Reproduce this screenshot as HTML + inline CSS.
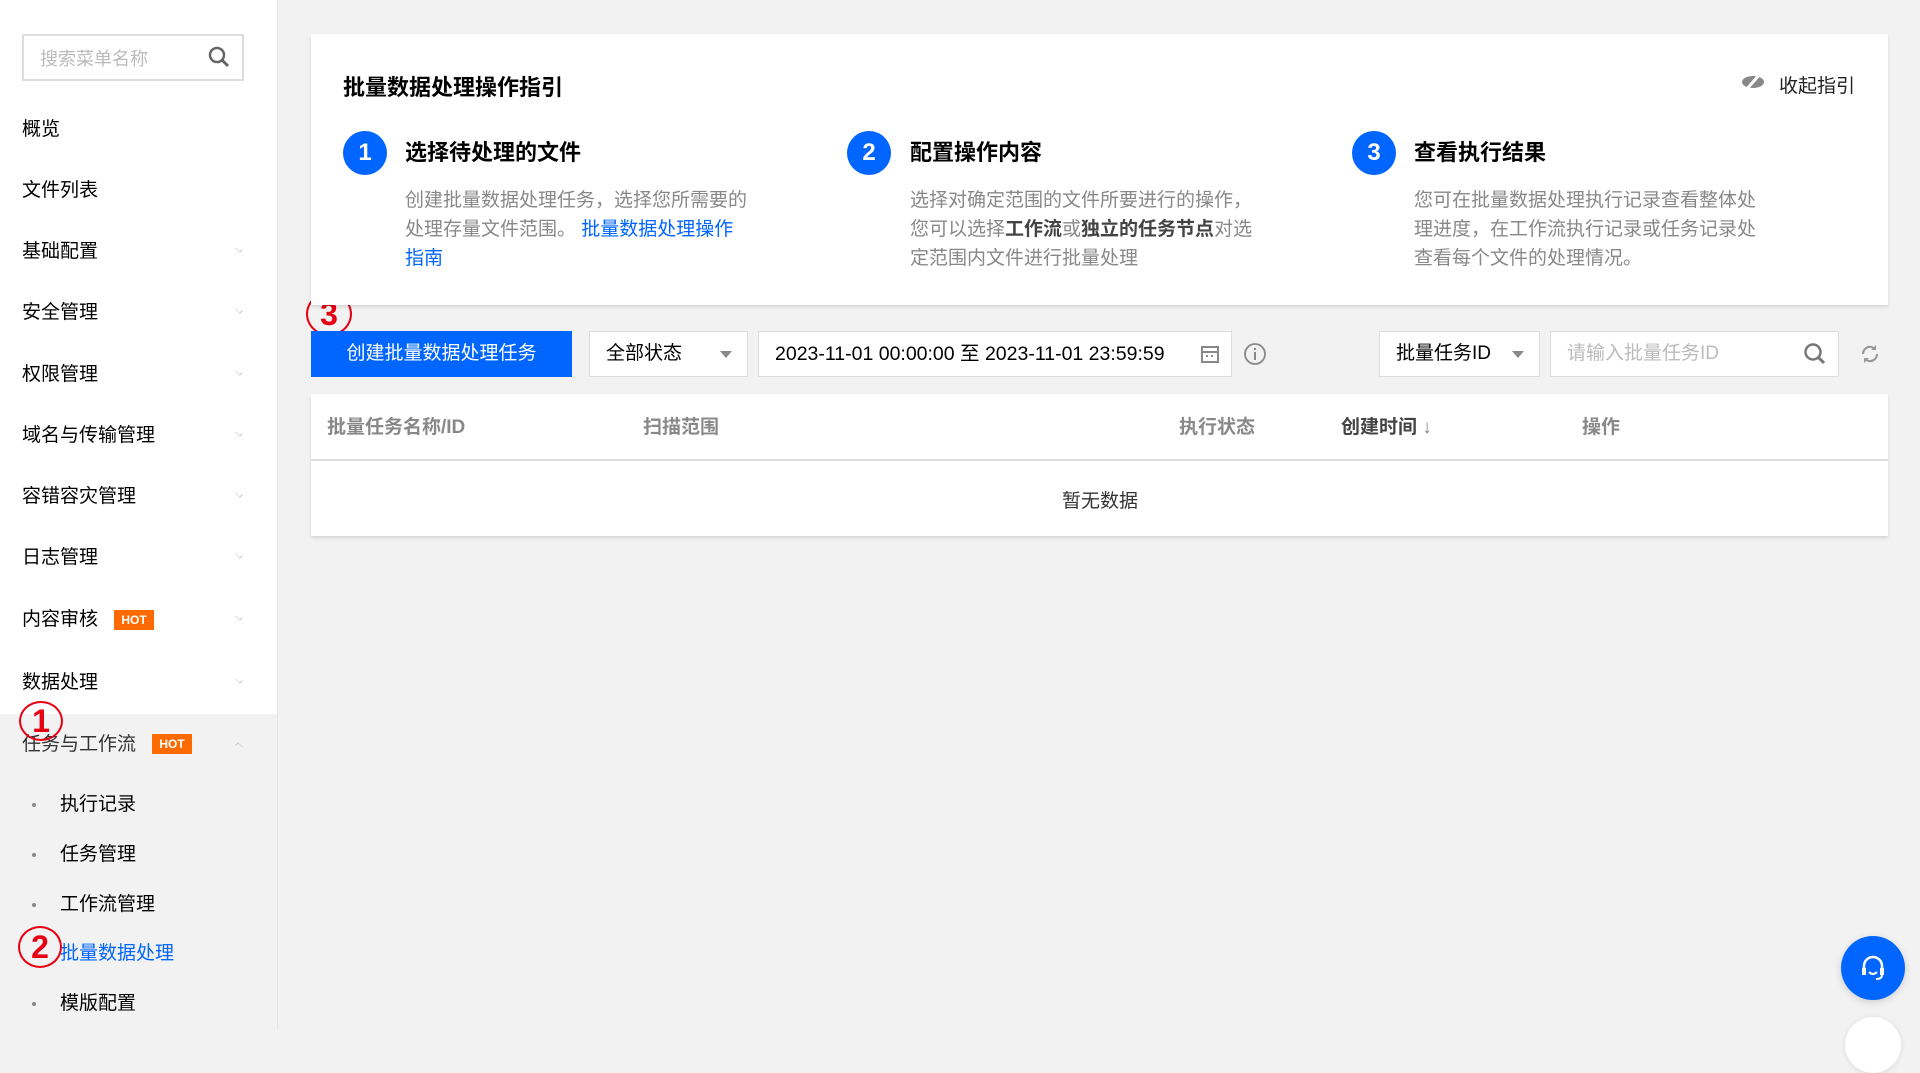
<!DOCTYPE html>
<html><head><meta charset="utf-8"><style>
*{margin:0;padding:0;box-sizing:border-box}
body{width:1920px;height:1030px;overflow:hidden;background:#f2f2f2;font-family:"Liberation Sans","Noto Sans CJK SC",sans-serif;position:relative;color:#000}
.a{position:absolute;white-space:nowrap}
#side{position:absolute;left:0;top:0;width:278px;height:1030px;background:#fff;border-right:1px solid #e5e5e5}
#side .grey{position:absolute;left:0;top:714px;width:277px;height:316px;background:#f2f2f2}
.mi{position:absolute;left:22px;font-size:19px;color:#000;line-height:24px}
.chev{position:absolute;left:235px;width:8px;height:8px;border-right:1.5px solid #bbb;border-bottom:1.5px solid #bbb;transform:rotate(45deg) scale(.8,.5)}
.hot{position:absolute;background:#ff6a00;color:#fff;font-size:12px;font-weight:bold;line-height:20px;text-align:center;width:40px;height:20px}
.sub{position:absolute;left:60px;font-size:19px;line-height:24px;color:#000}
.dot{position:absolute;left:32px;width:4px;height:4px;border-radius:2px;background:#888}
.rc{position:absolute;border:2px solid #e60012;border-radius:50%;color:#e60012;font-weight:bold;text-align:center;font-size:32px}
.card{position:absolute;background:#fff;box-shadow:0 2px 3px rgba(0,0,0,.12)}
.num{position:absolute;width:44px;height:44px;border-radius:22px;background:#0066ff;color:#fff;font-weight:bold;font-size:24px;text-align:center;line-height:44px}
.st{position:absolute;font-size:22px;font-weight:bold;line-height:28px}
.ds{position:absolute;font-size:19px;color:#888;line-height:29px;white-space:nowrap}
.ds b{color:#444}
.box{position:absolute;background:#fff;border:1px solid #ddd;height:46px;top:331px;font-size:19px;line-height:44px;padding-left:16px}
.tri{position:absolute;width:0;height:0;border-left:6px solid transparent;border-right:6px solid transparent;border-top:7px solid #888}
.th{position:absolute;top:416px;font-size:19px;color:#888;font-weight:bold;line-height:24px}
</style></head><body>
<div id="side"><div class="grey"></div>
<div class="a" style="left:22px;top:34px;width:222px;height:47px;border:2px solid #ddd"></div>
<div class="a" style="left:40px;top:45px;font-size:18px;color:#bbb">搜索菜单名称</div>
<svg class="a" style="left:207px;top:45px" width="24" height="24"><circle cx="10" cy="10" r="7" fill="none" stroke="#666" stroke-width="2.5"/><line x1="15" y1="15" x2="21" y2="21" stroke="#666" stroke-width="3"/></svg>
<div class="mi" style="top:118px">概览</div>
<div class="mi" style="top:179px">文件列表</div>
<div class="mi" style="top:240px">基础配置</div><div class="chev" style="top:245px"></div>
<div class="mi" style="top:301px">安全管理</div><div class="chev" style="top:306px"></div>
<div class="mi" style="top:363px">权限管理</div><div class="chev" style="top:368px"></div>
<div class="mi" style="top:424px">域名与传输管理</div><div class="chev" style="top:429px"></div>
<div class="mi" style="top:485px">容错容灾管理</div><div class="chev" style="top:490px"></div>
<div class="mi" style="top:546px">日志管理</div><div class="chev" style="top:551px"></div>
<div class="mi" style="top:608px">内容审核</div><div class="hot" style="left:114px;top:610px">HOT</div><div class="chev" style="top:613px"></div>
<div class="mi" style="top:671px">数据处理</div><div class="chev" style="top:676px"></div>
<div class="mi" style="top:733px;color:#333">任务与工作流</div><div class="hot" style="left:152px;top:734px">HOT</div>
<div class="a" style="left:235px;top:742px;width:8px;height:8px;border-left:1.5px solid #bbb;border-top:1.5px solid #bbb;transform:rotate(45deg) scale(.8,.5)"></div>
<div class="dot" style="top:803px"></div><div class="sub" style="top:793px">执行记录</div>
<div class="dot" style="top:853px"></div><div class="sub" style="top:843px">任务管理</div>
<div class="dot" style="top:903px"></div><div class="sub" style="top:893px">工作流管理</div>
<div class="sub" style="top:942px;color:#0066ff">批量数据处理</div>
<div class="dot" style="top:1002px"></div><div class="sub" style="top:992px">模版配置</div>
</div>
<div class="rc" style="left:19px;top:701px;width:44px;height:40px;line-height:36px">1</div>
<div class="rc" style="left:18px;top:926px;width:44px;height:42px;line-height:38px">2</div>
<div class="rc" style="left:306px;top:292px;width:46px;height:44px;line-height:40px">3</div>

<div class="card" style="left:311px;top:34px;width:1577px;height:271px"></div>
<div class="a" style="left:343px;top:70px;font-size:22px;font-weight:bold">批量数据处理操作指引</div>
<svg class="a" style="left:1740px;top:72px" width="26" height="20"><ellipse cx="13" cy="10" rx="11" ry="6" fill="#888"/><line x1="6" y1="18" x2="20" y2="2" stroke="#fff" stroke-width="3"/></svg>
<div class="a" style="left:1779px;top:71px;font-size:19px;color:#222">收起指引</div>
<div class="num" style="left:343px;top:131px">1</div><div class="st" style="left:405px;top:139px">选择待处理的文件</div>
<div class="ds" style="left:405px;top:186px">创建批量数据处理任务，选择您所需要的<br>处理存量文件范围。 <span style="color:#0066ff">批量数据处理操作</span><br><span style="color:#0066ff">指南</span></div>
<div class="num" style="left:847px;top:131px">2</div><div class="st" style="left:910px;top:139px">配置操作内容</div>
<div class="ds" style="left:910px;top:186px">选择对确定范围的文件所要进行的操作，<br>您可以选择<b>工作流</b>或<b>独立的任务节点</b>对选<br>定范围内文件进行批量处理</div>
<div class="num" style="left:1352px;top:131px">3</div><div class="st" style="left:1414px;top:139px">查看执行结果</div>
<div class="ds" style="left:1414px;top:186px">您可在批量数据处理执行记录查看整体处<br>理进度，在工作流执行记录或任务记录处<br>查看每个文件的处理情况。</div>

<div class="a" style="left:311px;top:331px;width:261px;height:46px;background:#0066ff;color:#fff;font-size:19px;line-height:46px;text-align:center">创建批量数据处理任务</div>
<div class="box" style="left:589px;width:159px">全部状态</div><div class="tri" style="left:720px;top:351px"></div>
<div class="box" style="left:758px;width:474px;color:#000;font-size:19.5px">2023-11-01 00:00:00 至 2023-11-01 23:59:59</div>
<svg class="a" style="left:1200px;top:344px" width="20" height="20"><rect x="2" y="3" width="16" height="15" fill="none" stroke="#888" stroke-width="2"/><line x1="2" y1="8" x2="18" y2="8" stroke="#888" stroke-width="2"/><rect x="6" y="11" width="2" height="2" fill="#888"/><rect x="11" y="11" width="2" height="2" fill="#888"/></svg>
<svg class="a" style="left:1243px;top:342px" width="24" height="24"><circle cx="12" cy="12" r="10" fill="none" stroke="#888" stroke-width="1.8"/><rect x="11" y="10" width="2" height="8" fill="#888"/><rect x="11" y="6" width="2" height="2" fill="#888"/></svg>
<div class="box" style="left:1379px;width:161px">批量任务ID</div><div class="tri" style="left:1512px;top:351px"></div>
<div class="box" style="left:1550px;width:289px;color:#bbb">请输入批量任务ID</div>
<svg class="a" style="left:1803px;top:342px" width="24" height="24"><circle cx="10" cy="10" r="7.5" fill="none" stroke="#777" stroke-width="2.5"/><line x1="15" y1="15" x2="21" y2="21" stroke="#777" stroke-width="3"/></svg>
<svg class="a" style="left:1859px;top:343px" width="22" height="22"><path d="M4 11a7 7 0 0 1 12-5M18 11a7 7 0 0 1-12 5" fill="none" stroke="#999" stroke-width="2.2"/><path d="M17 2v5h-5z M5 20v-5h5z" fill="#999"/></svg>

<div class="card" style="left:311px;top:394px;width:1577px;height:142px"></div>
<div class="a" style="left:311px;top:459px;width:1577px;height:2px;background:#e0e0e0"></div>
<div class="th" style="left:327px">批量任务名称/ID</div>
<div class="th" style="left:643px">扫描范围</div>
<div class="th" style="left:1179px">执行状态</div>
<div class="th" style="left:1341px;color:#444">创建时间 <span style="font-weight:normal;color:#888">↓</span></div>
<div class="th" style="left:1582px">操作</div>
<div class="a" style="left:1062px;top:486px;font-size:19px;color:#333">暂无数据</div>

<div class="a" style="left:1841px;top:936px;width:64px;height:64px;border-radius:32px;background:#0066ff;box-shadow:0 2px 8px rgba(0,0,0,.15)"></div>
<svg class="a" style="left:1857px;top:952px" width="32" height="32"><path d="M7 18v-4a9 9 0 0 1 18 0v4" fill="none" stroke="#fff" stroke-width="2.5"/><rect x="5" y="16" width="4" height="7" fill="#fff"/><rect x="23" y="16" width="4" height="7" fill="#fff"/><path d="M12 20q4 4 8 0" fill="none" stroke="#fff" stroke-width="2"/><path d="M25 23q0 4-6 4" fill="none" stroke="#fff" stroke-width="2"/></svg>
<div class="a" style="left:1845px;top:1017px;width:56px;height:56px;border-radius:28px;background:#fff;box-shadow:0 1px 6px rgba(0,0,0,.1)"></div>
</body></html>
